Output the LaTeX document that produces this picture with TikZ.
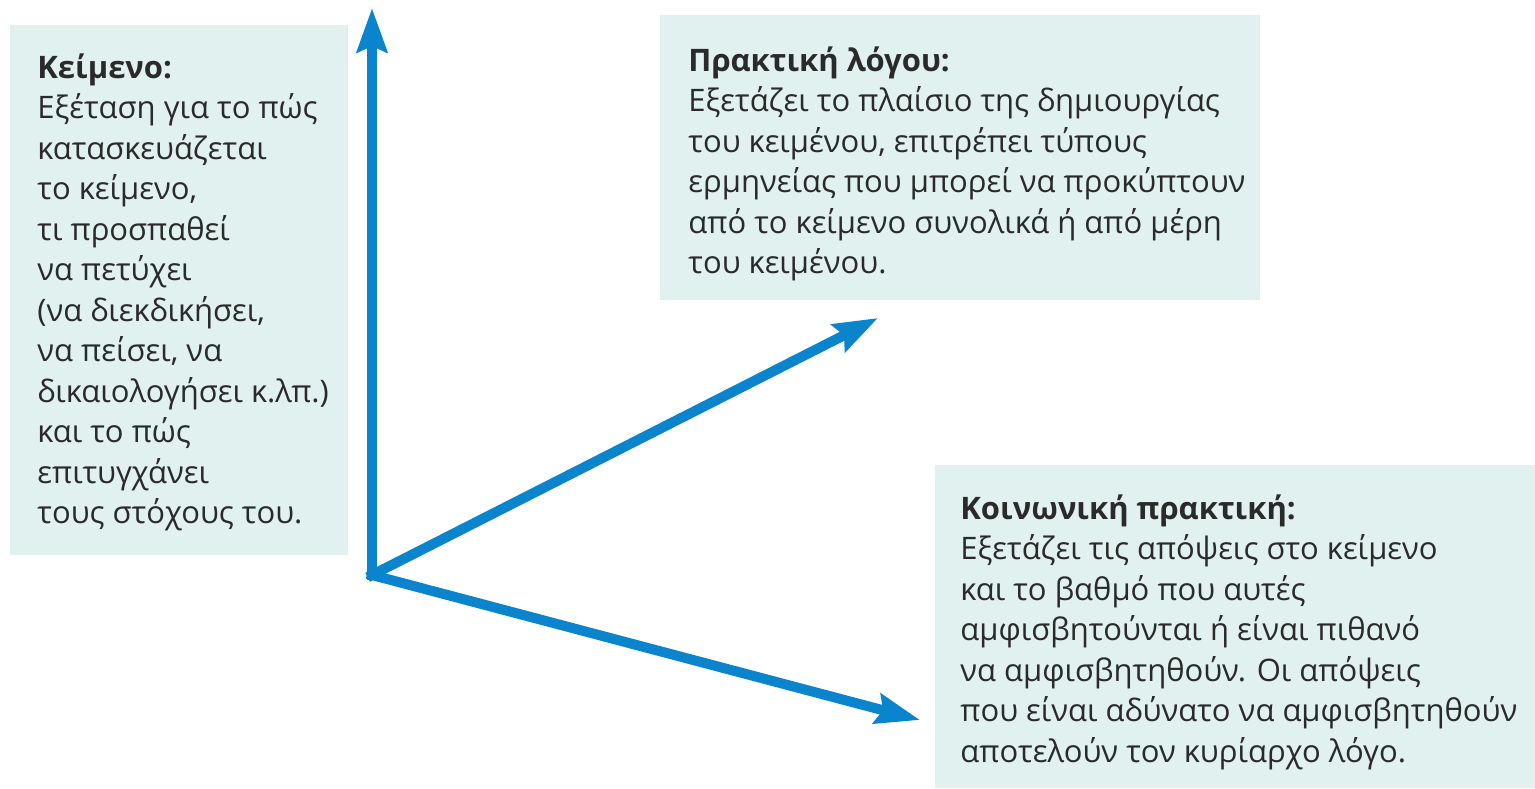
\documentclass[tikz,border=0pt]{standalone}
\usepackage{fontspec}
\setmainfont{Open Sans}
\usetikzlibrary{arrows.meta}
\definecolor{boxbg}{HTML}{E1F1F0}
\definecolor{arrowblue}{HTML}{0A84CC}
\definecolor{txt}{HTML}{2A2A2A}
\begin{document}
\begin{tikzpicture}[x=0.5pt,y=-0.5pt,
  bgbox/.style={fill=boxbg,draw=none},
  boxtext/.style={anchor=base west,inner sep=0pt,align=left,text=txt,
    font=\fontsize{15.5}{20.25}\selectfont},
  bluearrow/.style={draw=arrowblue,line width=5pt,line cap=rect,
    -{Stealth[length=22pt,width=15pt,inset=3pt]}}]
\useasboundingbox (0,0) rectangle (1535,788);
\fill[bgbox] (10,25) rectangle (348,555);
\fill[bgbox] (660,15) rectangle (1260,300);
\fill[bgbox] (935,465) rectangle (1535,788);
\node[boxtext] (t1) at (37,523.5) {\textbf{Κείμενο:}\\Εξέταση για το πώς\\κατασκευάζεται\\το κείμενο,\\τι προσπαθεί\\να πετύχει\\(να διεκδικήσει,\\να πείσει, να\\δικαιολογήσει κ.λπ.)\\και το πώς\\επιτυγχάνει\\τους στόχους του.};
\node[boxtext] (t2) at (688,273.5) {\textbf{Πρακτική λόγου:}\\Εξετάζει το πλαίσιο της δημιουργίας\\του κειμένου, επιτρέπει τύπους\\ερμηνείας που μπορεί να προκύπτουν\\από το κείμενο συνολικά ή από μέρη\\του κειμένου.};
\node[boxtext] (t3) at (960,762) {\textbf{Κοινωνική πρακτική:}\\Εξετάζει τις απόψεις στο κείμενο\\και το βαθμό που αυτές\\αμφισβητούνται ή είναι πιθανό\\να αμφισβητηθούν. Οι απόψεις\\που είναι αδύνατο να αμφισβητηθούν\\αποτελούν τον κυρίαρχο λόγο.};
\coordinate (o) at (372,575);
\coordinate (up) at (372,8);
\coordinate (mid) at (878,318);
\coordinate (low) at (920,720);
\draw[bluearrow] (o) -- (up);
\draw[bluearrow] (o) -- (mid);
\draw[bluearrow] (o) -- (low);
\end{tikzpicture}
\end{document}
